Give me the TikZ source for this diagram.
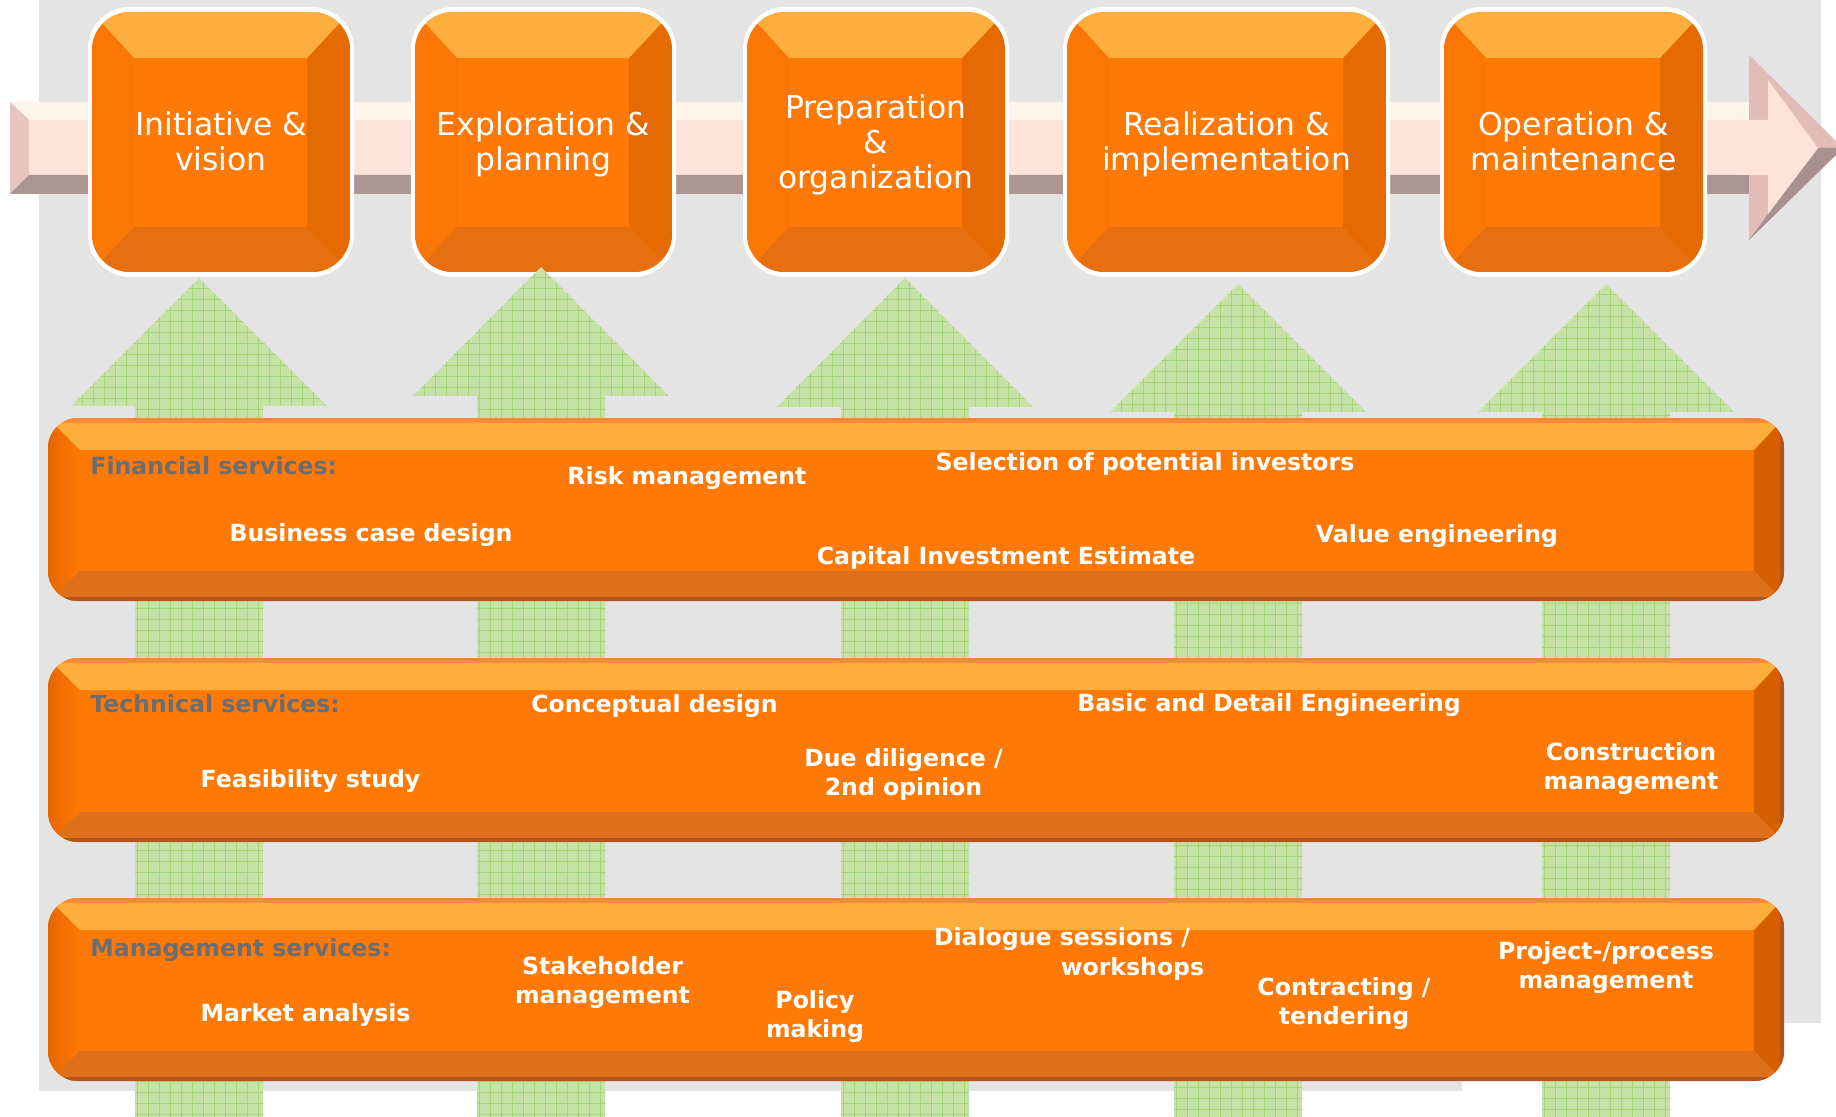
\documentclass[tikz,border=0pt]{standalone}
\usepackage{fontspec}
\setmainfont{DejaVu Sans}
\definecolor{bggrey}{HTML}{E4E4E4}
\definecolor{boxmain}{HTML}{FF7906}
\definecolor{boxtopc}{HTML}{FEAE3C}
\definecolor{boxbotc}{HTML}{E66F10}
\definecolor{boxrightc}{HTML}{E56A02}
\definecolor{boxleftc}{HTML}{F97607}
\definecolor{bandbotc}{HTML}{DE701C}
\definecolor{bandrightc}{HTML}{D65F02}
\definecolor{bandleftdark}{HTML}{E86600}
\definecolor{bandtopline}{HTML}{FF8B38}
\definecolor{bandbotline}{HTML}{B2551C}
\definecolor{headgrey}{HTML}{6A6D71}
\definecolor{gfillc}{HTML}{C6E2A6}
\definecolor{glinec}{HTML}{A6D673}
\definecolor{shcream}{HTML}{FDF4EA}
\definecolor{shpink}{HTML}{FDE3DA}
\definecolor{shdark}{HTML}{AC9694}
\definecolor{shleft}{HTML}{E8C5BF}
\definecolor{hdup}{HTML}{E2BDB7}
\definecolor{hddown}{HTML}{A8918F}
\tikzset{
  phasetext/.style={text=white, align=center, inner sep=0pt, text height=0.73em, text depth=0pt,
    font=\fontsize{15.7}{17.5}\selectfont},
  phase2/.style={phasetext, text height=28.96pt},
  phase3/.style={phasetext, text height=46.46pt},
  svc/.style={text=white, align=center, inner sep=0pt, text height=0.73em, text depth=0pt,
    font=\bfseries\fontsize{11.8}{14.6}\selectfont},
  svctwo/.style={svc, text height=23.21pt},
  svchead/.style={text=headgrey, anchor=west, inner sep=0pt, text height=0.73em, text depth=0pt,
    font=\bfseries\fontsize{11.8}{14.6}\selectfont},
  gline/.style={draw=glinec, line width=0.5pt},
}
\newcommand{\phbox}[7]{%
  \fill[white, rounded corners=21pt] (#1-4,#2-5) rectangle (#3+4,#4+5);
  \begin{scope}
    \clip[rounded corners=19pt] (#1,#2) rectangle (#3,#4);
    \fill[boxmain] (#1,#2) rectangle (#3,#4);
    \fill[boxleftc] (#1,#2) -- (#1+42,#2+46) -- (#1+42,#4-45) -- (#1,#4) -- cycle;
    \fill[boxrightc] (#3,#2) -- (#3-43,#2+46) -- (#3-43,#4-45) -- (#3,#4) -- cycle;
    \fill[boxtopc] (#1,#2) -- (#3,#2) -- (#3-43,#2+46) -- (#1+42,#2+46) -- cycle;
    \fill[boxbotc] (#1,#4) -- (#3,#4) -- (#3-43,#4-45) -- (#1+42,#4-45) -- cycle;
  \end{scope}
  \node[#7] (#5) at ({(#1+#3)/2},{(#2+#4)/2}) {#6};
}
\newcommand{\svband}[2]{%
  \begin{scope}
    \clip[rounded corners=15pt] (48,#1) rectangle (1784,#2);
    \fill[boxmain] (48,#1) rectangle (1784,#2);
    \shade[left color=bandleftdark, right color=boxmain] (48,#1) -- (80,#1+32) -- (80,#2-30) -- (48,#2) -- cycle;
    \fill[bandrightc] (1784,#1) -- (1754,#1+32) -- (1754,#2-30) -- (1784,#2) -- cycle;
    \fill[boxtopc] (48,#1) -- (1784,#1) -- (1754,#1+32) -- (80,#1+32) -- cycle;
    \fill[bandbotc] (48,#2) -- (1784,#2) -- (1754,#2-30) -- (80,#2-30) -- cycle;
    \fill[bandtopline] (40,#1) rectangle (1790,#1+5);
    \fill[bandbotline] (40,#2-4) rectangle (1790,#2);
    \fill[bandbotline] (1780,#1) rectangle (1790,#2);
  \end{scope}
}
\newcommand{\garrow}[3]{%
  \begin{scope}
    \clip (#1,#2) -- (#1+128,#3) -- (#1+64,#3) -- (#1+64,1120) -- (#1-64,1120) -- (#1-64,#3) -- (#1-128,#3) -- cycle;
    \fill[gfillc] (#1-130,#2-2) rectangle (#1+130,1120);
    \foreach \k in {0,...,23} {\draw[gline] (#1-128+\k*11,#2) -- (#1-128+\k*11,1120);}
    \foreach \k in {0,...,80} {\draw[gline] (#1-130,#2+\k*11) -- (#1+130,#2+\k*11);}
  \end{scope}
}
\begin{document}
\begin{tikzpicture}[x=0.5pt,y=-0.5pt]
\useasboundingbox (0,0) rectangle (1836,1117);
\clip (0,0) rectangle (1836,1117);
% background
\fill[white] (0,0) rectangle (1836,1117);
\fill[bggrey] (39,0) rectangle (1821,1023);
\fill[bggrey] (39,0) rectangle (1462,1091);
% process arrow shaft
\fill[shcream] (10,102) -- (1750,102) -- (1750,120) -- (29,120) -- cycle;
\fill[shleft] (10,102) -- (29,120) -- (29,175) -- (10,194) -- cycle;
\fill[shpink] (29,120) rectangle (1750,175);
\fill[shdark] (29,175) -- (1750,175) -- (1750,194) -- (10,194) -- cycle;
% process arrow head
\fill[hdup] (1749,55) -- (1843,148) -- (1749,240) -- cycle;
\fill[hddown] (1843,148) -- (1749,240) -- (1768,214) -- (1818,148) -- cycle;
\fill[shpink] (1740,120) -- (1768,120) -- (1768,80) -- (1818,148) -- (1768,214) -- (1768,175) -- (1740,175) -- cycle;
% phase boxes
\phbox{92}{12}{350}{272}{p1}{Initiative \&\\vision}{phase2}
\phbox{415}{12}{672}{272}{p2}{Exploration \&\\planning}{phase2}
\phbox{747}{12}{1005}{272}{p3}{Preparation\\\&\\organization}{phase3}
\phbox{1067}{12}{1386}{272}{p4}{Realization \&\\implementation}{phase2}
\phbox{1444}{12}{1703}{272}{p5}{Operation \&\\maintenance}{phase2}
% green up arrows
\garrow{199}{278}{406}
\garrow{541}{267}{396}
\garrow{905}{278}{407}
\garrow{1238}{284}{412}
\garrow{1606}{284}{412}
% service bands
\svband{418}{601}
\svband{658}{842}
\svband{898}{1081}
% financial
\node[svchead] (fh) at (90,467) {Financial services:};
\node[svc] (f1) at (687,477) {Risk management};
\node[svc] (f2) at (1145,463) {Selection of potential investors};
\node[svc] (f3) at (371,534.5) {Business case design};
\node[svc] (f4) at (1006,557.5) {Capital Investment Estimate};
\node[svc] (f5) at (1437,535) {Value engineering};
% technical
\node[svchead] (th) at (90,705.3) {Technical services:};
\node[svc] (t1) at (654.5,705.3) {Conceptual design};
\node[svc] (t2) at (1269,704) {Basic and Detail Engineering};
\node[svc] (t3) at (310.5,780.3) {Feasibility study};
\node[svctwo] (t4) at (903.5,772) {Due diligence /\\2nd opinion};
\node[svctwo] (t5) at (1631,766.5) {Construction\\management};
% management
\node[svchead] (mh) at (90,949.6) {Management services:};
\node[svc] (m1) at (305.5,1014) {Market analysis};
\node[svctwo] (m2) at (602.5,980) {Stakeholder\\management};
\node[svctwo] (m3) at (815,1014) {Policy\\making};
\node[svc] (m4a) at (1062,938) {Dialogue sessions /};
\node[svc] (m4b) at (1132.5,968) {workshops};
\node[svctwo] (m5) at (1344,1001) {Contracting /\\tendering};
\node[svctwo] (m6) at (1606,965.5) {Project-/process\\management};
\end{tikzpicture}
\end{document}
